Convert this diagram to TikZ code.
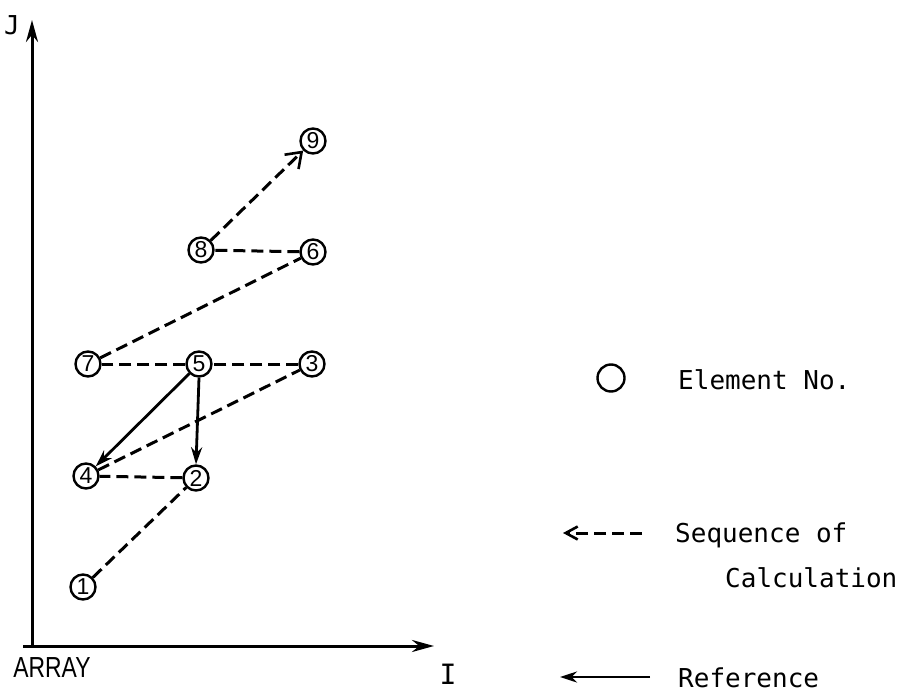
\documentclass[tikz,border=0pt]{standalone}
\usepackage{fontspec}
\setmainfont{Liberation Sans}
\newfontfamily\tw{DejaVu Sans Mono}
\usetikzlibrary{arrows.meta}
\begin{document}
\begin{tikzpicture}[x=1pt,y=-1pt,
 elem/.style={circle,draw,line width=2.4pt,minimum size=25pt,inner sep=0pt,font=\fontsize{23}{23}\selectfont},
 seq/.style={line width=3pt,dash pattern=on 12pt off 6pt},
 refarr/.style={line width=2.8pt,-{Stealth[length=17pt,width=11pt]}},
 axis/.style={line width=3pt,-{Stealth[length=22pt,width=12pt]}},
 lbl/.style={font=\tw\fontsize{26}{28}\selectfont,anchor=west,inner sep=0pt}]
\useasboundingbox (0,0) rectangle (907,700);
% elements
\node[elem] (n9) at (313,141) {9};
\node[elem] (n8) at (201,250) {8};
\node[elem] (n6) at (313,252) {6};
\node[elem] (n7) at (88,364) {7};
\node[elem] (n5) at (199,364) {5};
\node[elem] (n3) at (312,364) {3};
\node[elem] (n4) at (86,476) {4};
\node[elem] (n2) at (196,478) {2};
\node[elem] (n1) at (83,587) {1};
% sequence of calculation
\draw[seq] (n1) -- (n2);
\draw[seq] (n2) -- (n4);
\draw[seq] (n4) -- (n3);
\draw[seq] (n3) -- (n5);
\draw[seq] (n5) -- (n7);
\draw[seq] (n7) -- (n6);
\draw[seq] (n6) -- (n8);
\draw[seq,-{Straight Barb[length=14pt,width=20pt,line width=2.6pt]}] (n8) -- (n9);
% references
\draw[refarr] (n5) -- (n4);
\draw[refarr] (n5.south) -- (n2.north);
% axes
\coordinate (O) at (32,646);
\coordinate (Ytip) at (32,20);
\coordinate (Xstart) at (23,646);
\coordinate (Xtip) at (434,646);
\draw[axis] (O) -- (Ytip);
\draw[axis] (Xstart) -- (Xtip);
\node[font=\tw\fontsize{26}{26}\selectfont] (J) at (12,25) {J};
\node[font=\tw\fontsize{28}{28}\selectfont] (I) at (448,674) {I};
\node[font=\fontsize{29}{29}\selectfont,inner sep=0pt] (arr) at (52,668) {\scalebox{0.79}[1]{ARRAY}};
% legend
\node[circle,draw,line width=2.4pt,minimum size=27pt,inner sep=0pt] (lc) at (611,378) {};
\node[lbl] (l1) at (678,380) {Element No.};
\node[lbl] (l2) at (675,535) {Sequence of};
\node[lbl] (l3) at (725,578) {Calculation};
\node[lbl] (l4) at (678,678) {Reference};
\coordinate (s1) at (642,533);
\coordinate (s2) at (563,533);
\draw[seq,-{Straight Barb[length=12pt,width=13pt,line width=2.6pt]}] (s1) -- (s2);
\coordinate (r1) at (650,677);
\coordinate (r2) at (560,677);
\draw[refarr] (r1) -- (r2);
\end{tikzpicture}
\end{document}
